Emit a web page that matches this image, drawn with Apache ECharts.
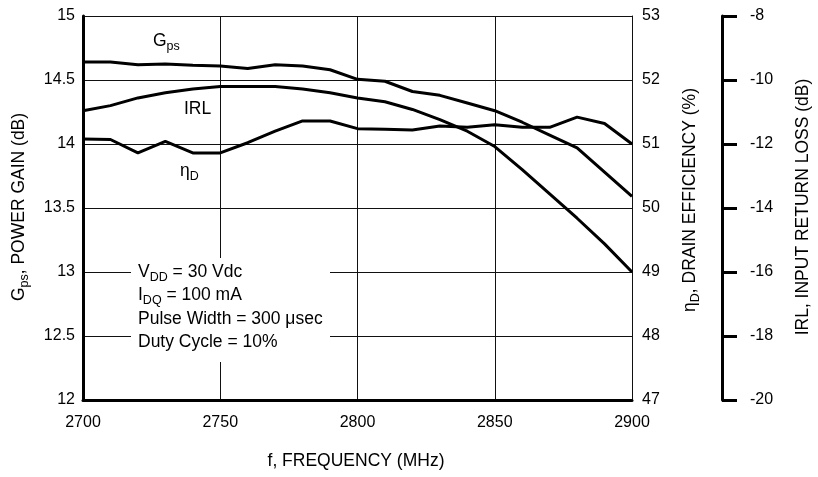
<!DOCTYPE html>
<html><head><meta charset="utf-8">
<script src="https://cdn.jsdelivr.net/npm/echarts@6/dist/echarts.min.js"></script>
<style>html,body{margin:0;padding:0;background:#fff}#c{width:818px;height:477px}</style>
</head><body><div id="c"></div>
<script>
// Frequency (MHz)
const freq = [2700, 2710, 2720, 2730, 2740, 2750, 2760, 2770, 2780, 2790, 2800,
              2810, 2820, 2830, 2840, 2850, 2860, 2870, 2880, 2890, 2900];
// Power gain Gps (dB)
const gps = [14.64, 14.64, 14.62, 14.625, 14.615, 14.61, 14.59, 14.62, 14.61, 14.58, 14.505,
             14.49, 14.41, 14.38, 14.32, 14.26, 14.17, 14.07, 13.97, 13.78, 13.59];
// Drain efficiency (%)
const effD = [51.08, 51.07, 50.86, 51.04, 50.86, 50.86, 51.02, 51.20, 51.36, 51.36, 51.24,
              51.23, 51.22, 51.28, 51.26, 51.30, 51.26, 51.26, 51.42, 51.32, 51.0];
// Input return loss (dB)
const irl = [-10.96, -10.80, -10.56, -10.40, -10.28, -10.20, -10.20, -10.20, -10.28, -10.40, -10.56,
             -10.68, -10.92, -11.24, -11.60, -12.08, -12.80, -13.56, -14.32, -15.12, -16.0];

const F = "'Liberation Sans', Arial, sans-serif";
const rich = {
  n: {fontSize: 17.5, fontFamily: F, color: '#000', lineHeight: 24},
  s: {fontSize: 12.5, fontFamily: F, color: '#000', lineHeight: 12, verticalAlign: 'bottom'}
};
function txt(x, y, text, opts) {
  opts = opts || {};
  return {
    type: 'text', x: x, y: y, rotation: opts.rot || 0, z: 100,
    style: {text: text, rich: rich, align: opts.align || 'left', verticalAlign: 'middle',
            fontSize: 17.5, fontFamily: F, fill: '#000'}
  };
}

const chart = echarts.init(document.getElementById('c'), null, {renderer: 'canvas'});
const lineStyle = {color: '#000', width: 3};
chart.setOption({
  animation: false,
  backgroundColor: '#fff',
  grid: {left: 83, right: 186, top: 16, bottom: 77, containLabel: false},
  xAxis: {
    type: 'value', min: 2700, max: 2900, interval: 50,
    axisLine: {show: true, onZero: false, lineStyle: {color: '#000', width: 3}},
    axisTick: {show: false},
    axisLabel: {fontSize: 16, color: '#000', margin: 15, fontFamily: F, formatter: v => String(v)},
    splitLine: {show: true, lineStyle: {color: '#111', width: 1}}
  },
  yAxis: [
    {
      type: 'value', min: 12, max: 15, interval: 0.5, position: 'left',
      axisLine: {show: true, onZero: false, lineStyle: {color: '#000', width: 3}},
      axisTick: {show: false},
      axisLabel: {fontSize: 16, color: '#000', margin: 8, fontFamily: F},
      splitLine: {show: true, lineStyle: {color: '#111', width: 1}}
    },
    {
      type: 'value', min: 47, max: 53, interval: 1, position: 'right',
      axisLine: {show: true, onZero: false, lineStyle: {color: '#111', width: 1}},
      axisTick: {show: false},
      axisLabel: {fontSize: 16, color: '#000', margin: 10, fontFamily: F},
      splitLine: {show: false}
    },
    {
      type: 'value', min: -20, max: -8, interval: 2, position: 'right', offset: 90,
      axisLine: {show: true, onZero: false, lineStyle: {color: '#000', width: 3}},
      axisTick: {show: true, inside: false, length: 15, lineStyle: {color: '#000', width: 3}},
      axisLabel: {fontSize: 16, color: '#000', margin: 28, fontFamily: F},
      splitLine: {show: false}
    }
  ],
  series: [
    {type: 'line', name: 'Gps', yAxisIndex: 0, showSymbol: false, lineStyle: lineStyle,
     itemStyle: {color: '#000'}, z: 5, data: freq.map((f, i) => [f, gps[i]])},
    {type: 'line', name: 'etaD', yAxisIndex: 1, showSymbol: false, lineStyle: lineStyle,
     itemStyle: {color: '#000'}, z: 5, data: freq.map((f, i) => [f, effD[i]])},
    {type: 'line', name: 'IRL', yAxisIndex: 2, showSymbol: false, lineStyle: lineStyle,
     itemStyle: {color: '#000'}, z: 5, data: freq.map((f, i) => [f, irl[i]])}
  ],
  graphic: [
    {type: 'rect', shape: {x: 131, y: 258, width: 199, height: 104}, style: {fill: '#fff'}, z: 50},
    txt(138, 272, '{n|V}{s|DD}{n| = 30 Vdc}'),
    txt(138, 295.5, '{n|I}{s|DQ}{n| = 100 mA}'),
    txt(138, 319, '{n|Pulse Width = 300 \u03bcsec}'),
    txt(138, 342.5, '{n|Duty Cycle = 10%}'),
    txt(153, 41, '{n|G}{s|ps}'),
    txt(184, 109, '{n|IRL}'),
    txt(180, 171, '{n|\u03b7}{s|D}'),
    txt(19, 207, '{n|G}{s|ps}{n|, POWER GAIN (dB)}', {rot: Math.PI / 2, align: 'center'}),
    txt(690, 200, '{n|\u03b7}{s|D}{n|, DRAIN EFFICIENCY (%)}', {rot: Math.PI / 2, align: 'center'}),
    txt(803, 207, '{n|IRL, INPUT RETURN LOSS (dB)}', {rot: Math.PI / 2, align: 'center'}),
    txt(356, 461, '{n|f, FREQUENCY (MHz)}', {align: 'center'})
  ]
});
</script></body></html>
